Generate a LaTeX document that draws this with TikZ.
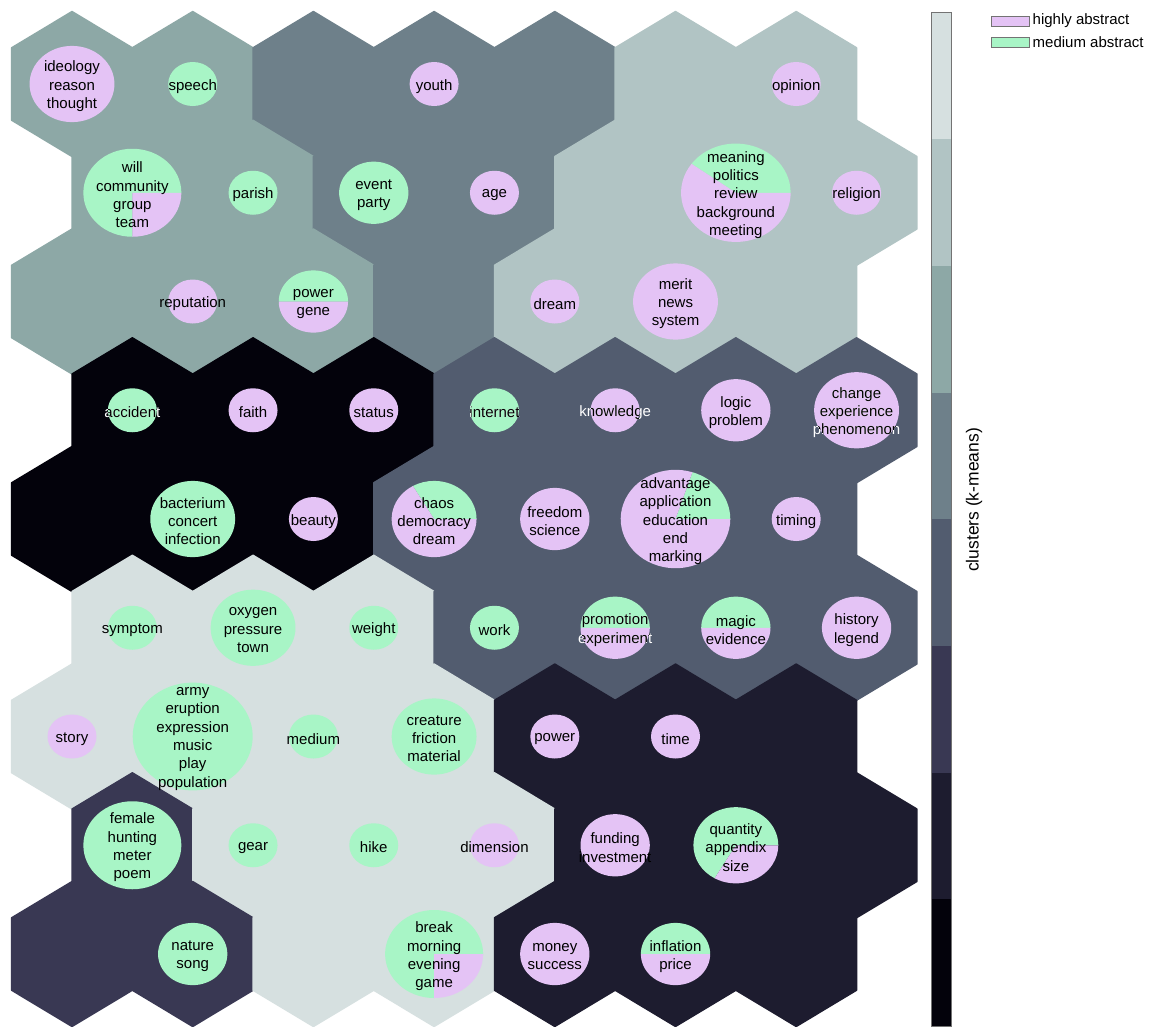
\documentclass[tikz,border=0pt]{standalone}
\usepackage{fontspec}
\setmainfont{Liberation Sans}
\usetikzlibrary{calc}
\definecolor{c0}{HTML}{03020B}
\definecolor{c1}{HTML}{1D1C2F}
\definecolor{c2}{HTML}{393853}
\definecolor{c3}{HTML}{525C6F}
\definecolor{c4}{HTML}{6E808A}
\definecolor{c5}{HTML}{8DA8A6}
\definecolor{c6}{HTML}{B1C4C4}
\definecolor{c7}{HTML}{D6E0E0}
\definecolor{pu}{HTML}{E4C3F5}
\definecolor{gr}{HTML}{A8F5C6}
\tikzset{
  lbl/.style={font=\fontsize{15}{18.3}\selectfont, align=center, inner sep=0pt, text=black, yshift=-2.3pt},
  legbox/.style={draw=black!55, line width=0.6pt, minimum width=38pt, minimum height=10pt, inner sep=0pt},
  legtxt/.style={font=\fontsize{15}{18}\selectfont, anchor=west, inner sep=0pt, text=black}
}
\newcommand\hx[3]{%
  \pgfmathsetmacro\hcx{72+120.7*#2+60.35*mod(#1,2)}%
  \pgfmathsetmacro\hcy{84+108.75*#1}%
  \filldraw[fill=#3, draw=#3, line width=1.4pt, line join=round] (\hcx,\hcy) +(0,-72.5) -- +(60.35,-36.25) -- +(60.35,36.25) -- +(0,72.5) -- +(-60.35,36.25) -- +(-60.35,-36.25) -- cycle;}
\newcommand\pn[6]{%
  \pgfmathsetmacro\pcx{72+120.7*#2+60.35*mod(#1,2)}%
  \pgfmathsetmacro\pcy{84+108.75*#1}%
  \pgfmathsetmacro\prx{24.5*sqrt(#3)}%
  \pgfmathsetmacro\pry{22*sqrt(#3)}%
  \pgfmathsetmacro\psx{\prx*cos(#4)}%
  \pgfmathsetmacro\psy{-\pry*sin(#4)}%
  \ifdim #4pt>0pt
    \fill[gr] (\pcx,\pcy) -- ++(\prx,0) arc[start angle=0, end angle=-#4, x radius=\prx, y radius=\pry] -- cycle;
  \fi
  \ifdim #4pt<360pt
    \fill[pu] (\pcx,\pcy) -- ++(\psx,\psy) arc[start angle=-#4, end angle=-360, x radius=\prx, y radius=\pry] -- cycle;
  \fi
  \ifnum#6=1
    \node[lbl, text=white] (n#1#2) at (\pcx,\pcy) {#5};
    \begin{scope}
      \clip (\pcx,\pcy) ellipse [x radius=\prx, y radius=\pry];
      \node[lbl] (m#1#2) at (\pcx,\pcy) {#5};
    \end{scope}
  \else
    \node[lbl] (n#1#2) at (\pcx,\pcy) {#5};
  \fi
}
\begin{document}
\begin{tikzpicture}[x=1pt, y=-1pt]
\useasboundingbox (0,0) rectangle (1150,1026);
\fill[white] (0,0) rectangle (1150,1026);
% hexagons
\foreach \cc [count=\c from 0] in {c5,c5,c4,c4,c4,c6,c6} {\hx{0}{\c}{\cc}}
\foreach \cc [count=\c from 0] in {c5,c5,c4,c4,c6,c6,c6} {\hx{1}{\c}{\cc}}
\foreach \cc [count=\c from 0] in {c5,c5,c5,c4,c6,c6,c6} {\hx{2}{\c}{\cc}}
\foreach \cc [count=\c from 0] in {c0,c0,c0,c3,c3,c3,c3} {\hx{3}{\c}{\cc}}
\foreach \cc [count=\c from 0] in {c0,c0,c0,c3,c3,c3,c3} {\hx{4}{\c}{\cc}}
\foreach \cc [count=\c from 0] in {c7,c7,c7,c3,c3,c3,c3} {\hx{5}{\c}{\cc}}
\foreach \cc [count=\c from 0] in {c7,c7,c7,c7,c1,c1,c1} {\hx{6}{\c}{\cc}}
\foreach \cc [count=\c from 0] in {c2,c7,c7,c7,c1,c1,c1} {\hx{7}{\c}{\cc}}
\foreach \cc [count=\c from 0] in {c2,c2,c7,c7,c1,c1,c1} {\hx{8}{\c}{\cc}}
% pies
\pn{0}{0}{3}{0}{ideology\\reason\\thought}{0}
\pn{0}{1}{1}{360}{speech}{0}
\pn{0}{3}{1}{0}{youth}{0}
\pn{0}{6}{1}{0}{opinion}{0}
\pn{1}{0}{4}{270}{will\\community\\group\\team}{0}
\pn{1}{1}{1}{360}{parish}{0}
\pn{1}{2}{2}{360}{event\\party}{0}
\pn{1}{3}{1}{0}{age}{0}
\pn{1}{5}{5}{144}{meaning\\politics\\review\\background\\meeting}{0}
\pn{1}{6}{1}{0}{religion}{0}
\pn{2}{1}{1}{0}{reputation}{0}
\pn{2}{2}{2}{180}{power\\gene}{0}
\pn{2}{4}{1}{0}{dream}{0}
\pn{2}{5}{3}{0}{merit\\news\\system}{0}
\pn{3}{0}{1}{360}{accident}{1}
\pn{3}{1}{1}{0}{faith}{0}
\pn{3}{2}{1}{0}{status}{0}
\pn{3}{3}{1}{360}{internet}{1}
\pn{3}{4}{1}{0}{knowledge}{1}
\pn{3}{5}{2}{0}{logic\\problem}{0}
\pn{3}{6}{3}{0}{change\\experience\\phenomenon}{1}
\pn{4}{1}{3}{360}{bacterium\\concert\\infection}{0}
\pn{4}{2}{1}{0}{beauty}{0}
\pn{4}{3}{3}{120}{chaos\\democracy\\dream}{0}
\pn{4}{4}{2}{0}{freedom\\science}{0}
\pn{4}{5}{5}{72}{advantage\\application\\education\\end\\marking}{0}
\pn{4}{6}{1}{0}{timing}{0}
\pn{5}{0}{1}{360}{symptom}{0}
\pn{5}{1}{3}{360}{oxygen\\pressure\\town}{0}
\pn{5}{2}{1}{360}{weight}{0}
\pn{5}{3}{1}{360}{work}{0}
\pn{5}{4}{2}{180}{promotion\\experiment}{1}
\pn{5}{5}{2}{180}{magic\\evidence}{0}
\pn{5}{6}{2}{0}{history\\legend}{0}
\pn{6}{0}{1}{0}{story}{0}
\pn{6}{1}{6}{360}{army\\eruption\\expression\\music\\play\\population}{0}
\pn{6}{2}{1}{360}{medium}{0}
\pn{6}{3}{3}{360}{creature\\friction\\material}{0}
\pn{6}{4}{1}{0}{power}{0}
\pn{6}{5}{1}{0}{time}{0}
\pn{7}{0}{4}{360}{female\\hunting\\meter\\poem}{0}
\pn{7}{1}{1}{360}{gear}{0}
\pn{7}{2}{1}{360}{hike}{0}
\pn{7}{3}{1}{0}{dimension}{0}
\pn{7}{4}{2}{0}{funding\\investment}{0}
\pn{7}{5}{3}{240}{quantity\\appendix\\size}{0}
\pn{8}{1}{2}{360}{nature\\song}{0}
\pn{8}{3}{4}{270}{break\\morning\\evening\\game}{0}
\pn{8}{4}{2}{0}{money\\success}{0}
\pn{8}{5}{2}{180}{inflation\\price}{0}
% colour bar
\foreach \cc [count=\i from 0] in {c0,c1,c2,c3,c4,c5,c6,c7}
  {\fill[\cc] (931.7,{1026-\i*126.66}) rectangle (951.7,{1026-(\i+1)*126.66});}
\draw[black!55, line width=0.6pt] (931.7,12.7) rectangle (951.7,1026);
\node[rotate=90, font=\fontsize{17.5}{20}\selectfont, inner sep=0pt] (cl) at (974,500) {clusters (k-means)};
% legend
\node[legbox, fill=pu] (k1) at (1010,21.5) {};
\node[legbox, fill=gr] (k2) at (1010,42.3) {};
\node[legtxt] (t1) at (1032.5,21) {highly abstract};
\node[legtxt] (t2) at (1032.5,42) {medium abstract};
\end{tikzpicture}
\end{document}
